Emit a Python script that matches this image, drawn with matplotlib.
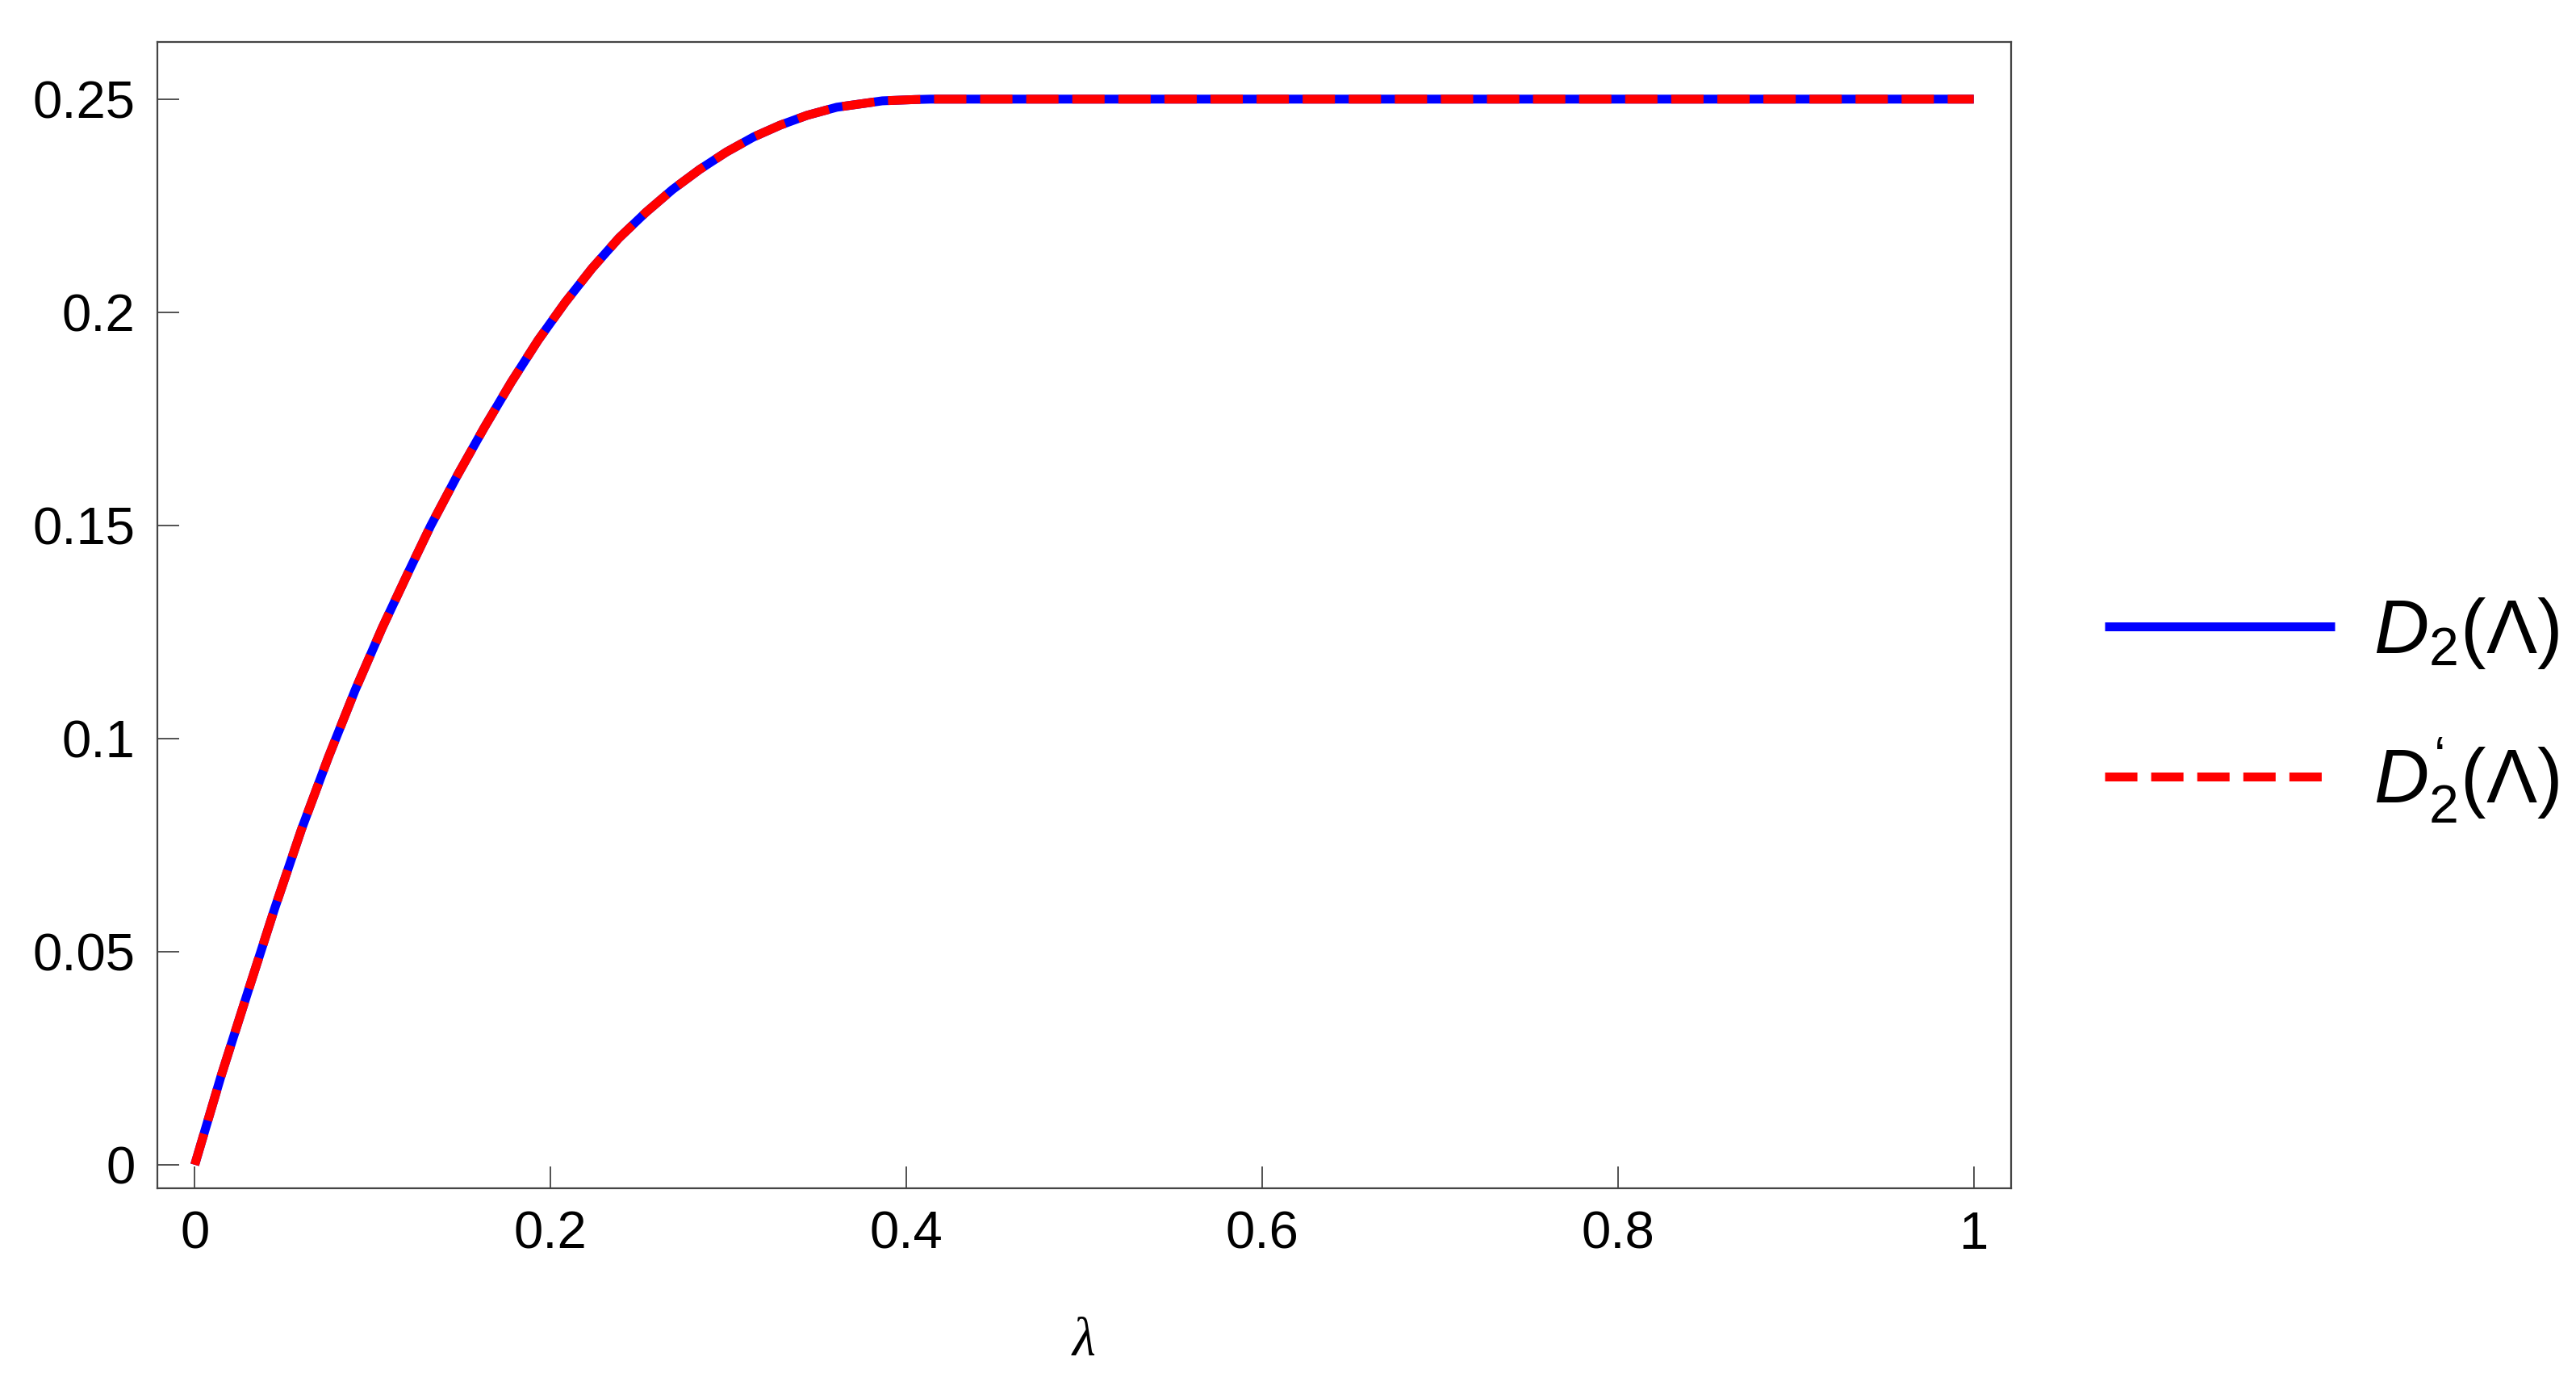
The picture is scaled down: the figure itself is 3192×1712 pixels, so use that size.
import matplotlib
matplotlib.use("Agg")
import matplotlib.pyplot as plt
import numpy as np

# values
lam = [0.0, 0.0147, 0.0298, 0.0449, 0.060, 0.0751, 0.0902, 0.1054, 0.1205,
       0.1326, 0.1477, 0.1628, 0.1779, 0.1931, 0.2082, 0.2233, 0.2384,
       0.2535, 0.2686, 0.2838, 0.2989, 0.314, 0.3291, 0.3442, 0.3609,
       0.3865, 0.4047, 0.4136,
       0.5, 0.6, 0.7, 0.8, 0.9, 1.0]
d2 = [0.0, 0.0207, 0.0405, 0.0601, 0.0787, 0.0956, 0.1114, 0.1260, 0.1394,
      0.1499, 0.1618, 0.1730, 0.1836, 0.1935, 0.2023, 0.2103, 0.2174,
      0.2234, 0.2288, 0.2335, 0.2376, 0.2411, 0.2439, 0.2462, 0.2481,
      0.2496, 0.2499, 0.25,
      0.25, 0.25, 0.25, 0.25, 0.25, 0.25]
d2_prime = list(d2)  # the two curves coincide

x_ticks = [0, 0.2, 0.4, 0.6, 0.8, 1]
x_tick_labels = ['0', '0.2', '0.4', '0.6', '0.8', '1']
y_ticks = [0, 0.05, 0.1, 0.15, 0.2, 0.25]
y_tick_labels = ['0', '0.05', '0.1', '0.15', '0.2', '0.25']

plt.rcParams['font.family'] = ['Liberation Sans', 'DejaVu Sans']
plt.rcParams['mathtext.fontset'] = 'custom'
plt.rcParams['mathtext.rm'] = 'Liberation Sans'
plt.rcParams['mathtext.it'] = 'Liberation Sans:italic'
plt.rcParams['mathtext.bf'] = 'Liberation Sans:bold'

fig = plt.figure(figsize=(15.96, 8.56), dpi=200)
ax = fig.add_axes([0.0611, 0.1402, 0.7196, 0.8294])

lw = 3.96
ax.plot(lam, d2, color='blue', lw=lw, solid_capstyle='butt',
        solid_joinstyle='round', label=r'$D_2(\Lambda)$')
ax.plot(lam, d2_prime, color='red', lw=lw, dashes=(3.64, 1.55),
        dash_capstyle='butt', dash_joinstyle='round',
        label=r'$D_2^{‘}(\Lambda)$')

ax.set_xlim(-0.021, 1.021)
ax.set_ylim(-0.0055, 0.2634)
ax.set_xticks(x_ticks)
ax.set_xticklabels(x_tick_labels)
ax.set_yticks(y_ticks)
ax.set_yticklabels(y_tick_labels)
ax.tick_params(direction='in', length=9.7, width=0.6, color='#333333',
               labelsize=23.5, pad=10, top=False, right=False)
for sp in ax.spines.values():
    sp.set_linewidth(0.8)
    sp.set_color('#444444')

ax.set_xlabel('λ', family='Liberation Serif', style='italic',
              fontsize=24, labelpad=26)

fig.legend(loc='center left', bbox_to_anchor=(0.817, 0.486),
           frameon=False, fontsize=34, handlelength=3.02,
           handletextpad=0.51, labelspacing=0.86, borderpad=0,
           borderaxespad=0)

plt.savefig("out.png", dpi=200)
